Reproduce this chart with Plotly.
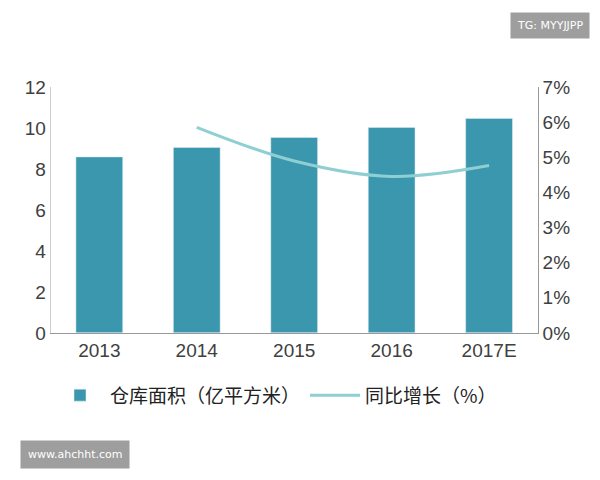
import plotly.graph_objects as go

years = ['2013', '2014', '2015', '2016', '2017E']
area = [8.6, 9.06, 9.55, 10.04, 10.48]
growth_years = ['2014', '2015', '2016', '2017E']
growth = [5.86, 4.9, 4.46, 4.77]

bar_color = '#3a97ad'
line_color = '#8fcfd4'
font = 'Noto Sans CJK SC'

fig = go.Figure()
fig.add_trace(go.Bar(x=years, y=area, marker_color=bar_color, width=0.48,
                     name='仓库面积（亿平方米）'))
fig.add_trace(go.Scatter(x=growth_years, y=growth, yaxis='y2', mode='lines',
                         line=dict(color=line_color, width=3, shape='spline'),
                         name='同比增长（%）'))

fig.update_layout(
    width=600, height=480,
    margin=dict(l=0, r=0, t=0, b=0),
    plot_bgcolor='white', paper_bgcolor='white',
    font=dict(family=font, size=19, color='#404040'),
    showlegend=True,
    legend=dict(orientation='h', x=0.07, y=0.178, xanchor='left', yanchor='middle',
                font=dict(size=19, color='#222'), itemwidth=50),
    xaxis=dict(domain=[0.071, 0.883], showline=True, linecolor='#999',
               ticks='', anchor='y', tickfont=dict(family='Liberation Sans', size=19)),
    yaxis=dict(domain=[0.314, 0.849], range=[0, 12], dtick=2, showgrid=False,
               showline=True, linecolor='#ccc', ticks='', zeroline=False,
               tickfont=dict(family='Liberation Sans', size=19)),
    yaxis2=dict(overlaying='y', side='right', range=[0, 7], dtick=1,
                ticksuffix='%', showgrid=False, showline=True, linecolor='#999',
                ticks='', zeroline=False, anchor='x',
                tickfont=dict(family='Liberation Sans', size=19)),
    annotations=[
        dict(text='TG: MYYJJPP', xref='paper', yref='paper', x=0.97, y=0.983,
             xanchor='right', yanchor='middle', showarrow=False,
             bgcolor='#9e9e9e', font=dict(color='white', size=11, family='DejaVu Sans'),
             borderpad=6),
        dict(text='www.ahchht.com', xref='paper', yref='paper', x=0.02, y=0.05,
             xanchor='left', yanchor='middle', showarrow=False,
             bgcolor='#9e9e9e', font=dict(color='white', size=11, family='DejaVu Sans'),
             borderpad=7),
    ],
)

fig.write_html('out.html')
